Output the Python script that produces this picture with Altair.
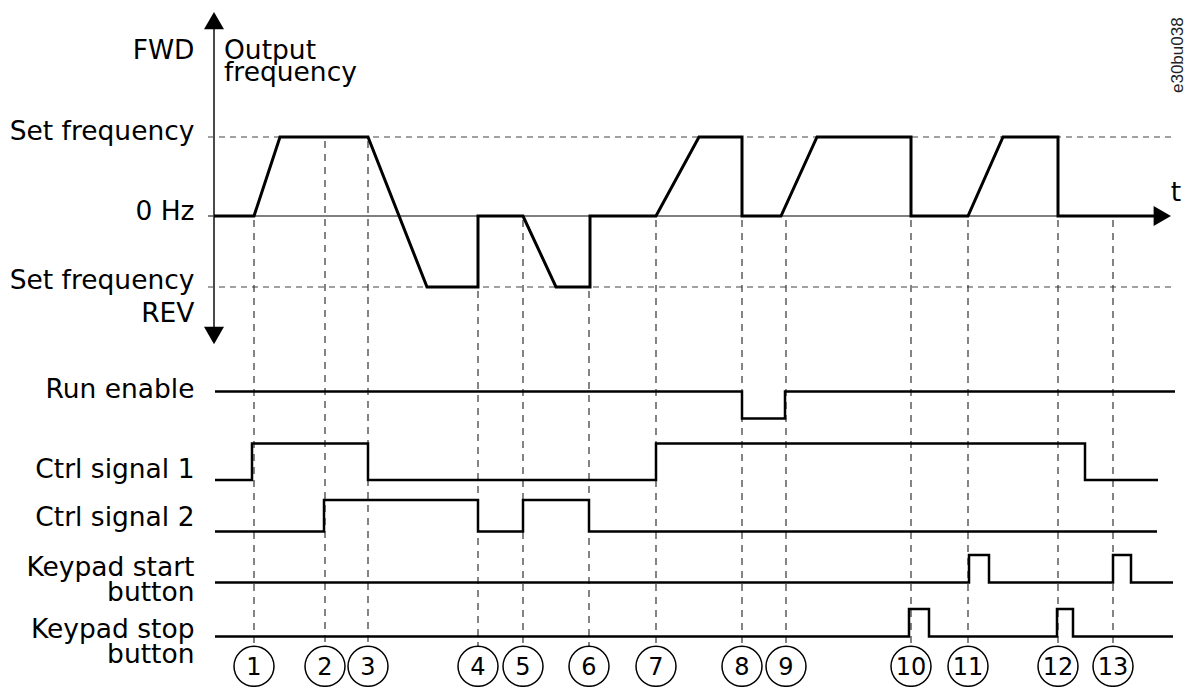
import altair as alt
import pandas as pd

# ---------------- data ----------------
# numbered events (time in arbitrary units along the t axis)
event_labels = ["1", "2", "3", "4", "5", "6", "7", "8", "9", "10", "11", "12", "13"]
event_t = [4.0, 11.1, 15.4, 26.4, 30.9, 37.5, 44.2, 52.8, 57.2, 69.7, 75.4, 84.4, 89.9]
# frequency level where each dashed event guide begins
event_from = [0, 1, 1, -1, 0, -1, 0, 0, 0, 0, 0, 0, 0]

# output frequency: 1 = set frequency (FWD), 0 = 0 Hz, -1 = set frequency (REV)
freq_t = [0.0, 4.0, 6.6, 15.4, 21.3, 26.4, 26.4, 30.9, 34.2, 37.6, 37.6, 44.2,
          48.5, 52.8, 52.8, 56.7, 60.3, 69.7, 69.7, 75.4, 78.9, 84.4, 84.4, 94.1]
freq_level = [0, 0, 1, 1, -1, -1, 0, 0, -1, -1, 0, 0,
              1, 1, 0, 0, 1, 1, 0, 0, 1, 1, 0, 0]

# digital signals: change times and the level that starts there
run_enable_t = [0.1, 52.8, 57.1, 96.1]
run_enable_level = [1, 0, 1, 1]
ctrl1_t = [0.1, 3.8, 15.4, 44.2, 87.1, 94.4]
ctrl1_level = [0, 1, 0, 1, 0, 0]
ctrl2_t = [0.1, 11.0, 26.4, 30.9, 37.5, 94.3]
ctrl2_level = [0, 1, 0, 1, 0, 0]
start_t = [0.1, 75.5, 77.5, 89.9, 91.7, 95.9]
start_level = [0, 1, 0, 1, 0, 0]
stop_t = [0.1, 69.5, 71.5, 84.3, 85.9, 95.9]
stop_level = [0, 1, 0, 1, 0, 0]

# texts
freq_labels = ["FWD", "Set frequency", "0 Hz", "Set frequency", "REV"]
title_lines = ["Output", "frequency"]
signal_labels = ["Run enable", "Ctrl signal 1", "Ctrl signal 2",
                 "Keypad start", "button", "Keypad stop", "button"]
time_label = "t"
drawing_code = "e30bu038"

# ---------------- layout (pixels of the drawing) ----------------
def px2t(px):
    return (px - 214) / 10.0

FREQ_ROW = {1: 137, 0: 216, -1: 287}
SIGNAL_ROWS = [(391.5, 418.5), (443.5, 480), (500, 531.5), (555, 582.5), (609, 636.5)]
FREQ_LABEL_Y = [59, 140, 220, 289, 322]
SIGNAL_LABEL_Y = [398, 478, 525.5, 575.5, 600.5, 638, 663]
CIRCLE_Y = 666.3
CIRCLE_SIZE = 1600
GUIDE_END = 646.5
FONT = "DejaVu Sans"
FS = 26.5

XS = alt.Scale(domain=[px2t(8), px2t(1185)], nice=False, zero=False)
YS = alt.Scale(domain=[8, 687], reverse=True, nice=False, zero=False)


def X(f):
    return alt.X(f, type="quantitative", scale=XS, axis=None)


def Y(f):
    return alt.Y(f, type="quantitative", scale=YS, axis=None)


# ---------------- tables ----------------
freq_df = pd.DataFrame({"t": freq_t, "level": freq_level, "ord": range(len(freq_t))})

signals = [(run_enable_t, run_enable_level), (ctrl1_t, ctrl1_level), (ctrl2_t, ctrl2_level),
           (start_t, start_level), (stop_t, stop_level)]
rows = []
for i, (ts, ls) in enumerate(signals):
    hi, lo = SIGNAL_ROWS[i]
    for j, (t, l) in enumerate(zip(ts, ls)):
        rows.append({"sig": i, "ord": j, "t": t, "level": l, "hi": hi, "lo": lo})
sig_df = pd.DataFrame(rows)

event_df = pd.DataFrame({"t": event_t, "label": event_labels,
                         "y0": [FREQ_ROW[l] + 4 for l in event_from]})

hlines_df = pd.DataFrame({"y": [FREQ_ROW[1], FREQ_ROW[-1]]})

left_df = pd.DataFrame({"text": freq_labels + signal_labels,
                        "y": FREQ_LABEL_Y + SIGNAL_LABEL_Y})
title_df = pd.DataFrame({"text": title_lines, "y": [59, 81]})

base = alt.Chart(pd.DataFrame({"k": [0]}))

# dashed reference lines
hdash = alt.Chart(hlines_df).mark_rule(color="#444", strokeWidth=1.2, strokeDash=[6, 5]).encode(
    x=X("a"), x2="b:Q", y=Y("y")
).transform_calculate(a=str(px2t(208)), b=str(px2t(1172)))

vguides = alt.Chart(event_df).mark_rule(color="#333", strokeWidth=1.2, strokeDash=[7, 6]).encode(
    x=X("t"), y=Y("y0"), y2=alt.Y2("yend:Q")
).transform_calculate(yend=str(GUIDE_END))

# axes of the frequency plot
yaxis = base.mark_rule(color="#4a4a4a", strokeWidth=2).encode(
    x=X("a"), y=Y("y0"), y2=alt.Y2("y1:Q")
).transform_calculate(a="0", y0="28", y1="328")

zero_line = base.mark_rule(color="#555", strokeWidth=1.5).encode(
    x=X("a"), x2="b:Q", y=Y("y")
).transform_calculate(a=str(px2t(208)), b=str(px2t(1156)), y=str(FREQ_ROW[0]))

arrows_df = pd.DataFrame({"shape": ["triangle-up", "triangle-down", "triangle-right"]})
arrows = alt.Chart(arrows_df).mark_point(filled=True, color="black", size=400, opacity=1).encode(
    x=X("ax"), y=Y("ay"), shape=alt.Shape("shape:N", scale=None)
).transform_calculate(
    ax=f"datum.shape == 'triangle-right' ? {px2t(1162.3)} : 0",
    ay=f"datum.shape == 'triangle-up' ? 20.7 : (datum.shape == 'triangle-down' ? 335.5 : {FREQ_ROW[0]})",
)

freq_line = alt.Chart(freq_df).mark_line(color="black", strokeWidth=3, strokeJoin="miter").encode(
    x=X("t"), y=Y("y"), order="ord:Q"
).transform_calculate(
    y=f"datum.level >= 0 ? {FREQ_ROW[0]} - {FREQ_ROW[0] - FREQ_ROW[1]} * datum.level"
      f" : {FREQ_ROW[0]} - {FREQ_ROW[-1] - FREQ_ROW[0]} * datum.level"
)

sig_lines = alt.Chart(sig_df).mark_line(color="black", strokeWidth=2.5, interpolate="step-after",
                                        strokeJoin="miter").encode(
    x=X("t"), y=Y("y"), detail="sig:N", order="ord:Q"
).transform_calculate(y="datum.lo + datum.level * (datum.hi - datum.lo)")

circles = alt.Chart(event_df).mark_point(shape="circle", filled=False, color="black", size=CIRCLE_SIZE,
                                         strokeWidth=1.5, opacity=1).encode(
    x=X("t"), y=Y("cy")
).transform_calculate(cy=str(CIRCLE_Y))

circle_text = alt.Chart(event_df).mark_text(font=FONT, fontSize=24, align="center",
                                            baseline="alphabetic", color="black").encode(
    x=X("t"), y=Y("cy"), text="label:N"
).transform_calculate(cy=str(CIRCLE_Y + 8.7))

left_text = alt.Chart(left_df).mark_text(font=FONT, fontSize=FS, align="right",
                                         baseline="alphabetic", color="black").encode(
    x=X("x"), y=Y("y"), text="text:N"
).transform_calculate(x=str(px2t(194.5)))

title_text = alt.Chart(title_df).mark_text(font=FONT, fontSize=FS, align="left",
                                           baseline="alphabetic", color="black").encode(
    x=X("x"), y=Y("y"), text="text:N"
).transform_calculate(x=str(px2t(224)))

t_text = alt.Chart(pd.DataFrame({"text": [time_label]})).mark_text(
    font=FONT, fontSize=FS, align="center", baseline="alphabetic", color="black").encode(
    x=X("x"), y=Y("y"), text="text:N"
).transform_calculate(x=str(px2t(1176)), y="201")

code_text = alt.Chart(pd.DataFrame({"text": [drawing_code]})).mark_text(
    font="Liberation Sans", fontSize=17, align="left", baseline="alphabetic", angle=270,
    color="#222").encode(
    x=X("x"), y=Y("y"), text="text:N"
).transform_calculate(x=str(px2t(1183)), y="93")

chart = alt.layer(
    hdash, vguides, zero_line, yaxis, arrows, freq_line, sig_lines,
    circles, circle_text, left_text, title_text, t_text, code_text
).properties(
    width=1177, height=679, padding=0,
    autosize=alt.AutoSizeParams(type="none"),
    background="white",
).configure_view(strokeWidth=0)

chart.save("out.html", embed_options={"renderer": "svg", "actions": False})
